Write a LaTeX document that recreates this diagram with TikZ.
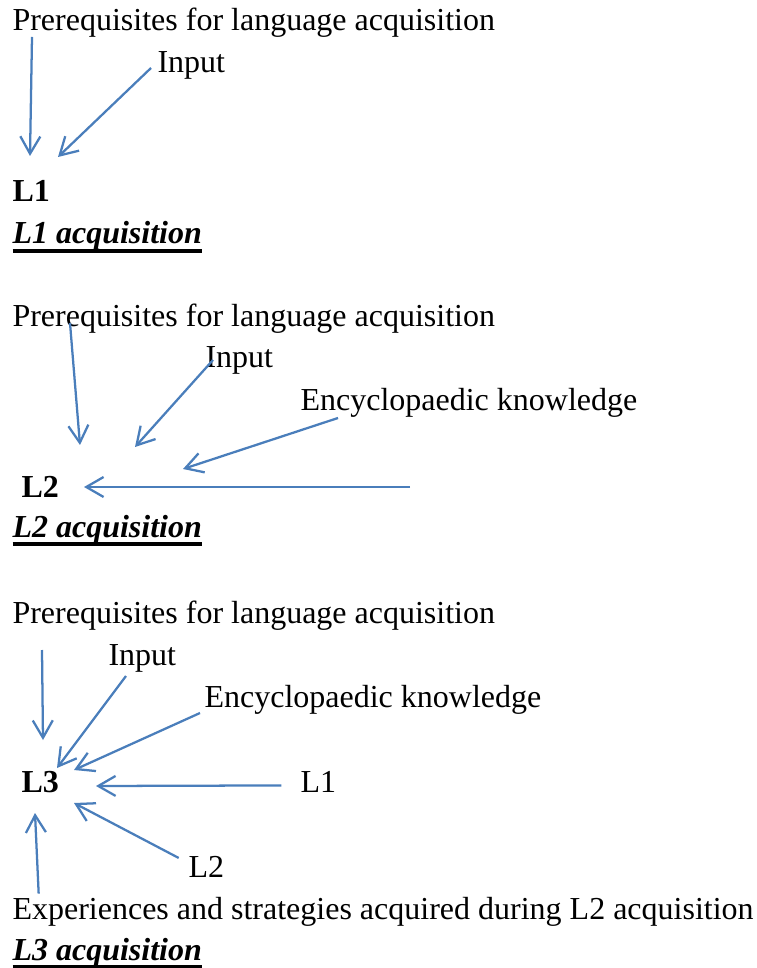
\documentclass[tikz,border=0pt]{standalone}
\usepackage{fontspec}
\setmainfont{Liberation Serif}
\usetikzlibrary{arrows.meta}
\definecolor{arrowblue}{RGB}{74,126,187}
\tikzstyle{line} = [draw, arrowblue, line width=0.85pt, -{Straight Barb[length=6.5pt,width=7.5pt]}]
\tikzstyle{txt} = [inner sep=0pt, anchor=base west, font=\fontsize{12}{14}\selectfont]
\tikzstyle{lang} = [txt, font=\fontsize{12}{14}\selectfont\bfseries]
\newcommand{\acqtitle}[1]{\setbox0=\hbox{\bfseries\itshape #1}\rlap{\vrule height -2pt depth 3.3pt width \wd0}\box0}

\begin{document}
\begin{tikzpicture}[x=0.375pt, y=-0.375pt]
        \useasboundingbox (0,0) rectangle (757,968);
        % L1 acquisition
        \node[txt] (pre1) at (12,31) {Prerequisites for language acquisition};
        \node[txt] (inp1) at (157,73) {Input};
        \node[lang] (lone1) at (12,202) {L1};
        \node[txt] (head1) at (12,244) {\acqtitle{L1 acquisition}};
        \coordinate (pre1s) at (32,37);   \coordinate (pre1e) at (30,156);
        \coordinate (inp1s) at (151,68);  \coordinate (inp1e) at (58,157);
        \path[line] (pre1s) -- (pre1e);
        \path[line] (inp1s) -- (inp1e);
        % L2 acquisition
        \node[txt] (pre2) at (12,327) {Prerequisites for language acquisition};
        \node[txt] (inp2) at (205,368) {Input};
        \node[txt] (enc2) at (300,410) {Encyclopaedic knowledge};
        \node[lang] (ltwo2) at (21,497) {L2};
        \node[txt] (head2) at (12,537) {\acqtitle{L2 acquisition}};
        \coordinate (pre2s) at (70,323);  \coordinate (pre2e) at (80,445);
        \coordinate (inp2s) at (213,360); \coordinate (inp2e) at (135,447);
        \coordinate (enc2s) at (338,418); \coordinate (enc2e) at (183,469);
        \coordinate (hor2s) at (410,487); \coordinate (hor2e) at (84,487);
        \path[line] (pre2s) -- (pre2e);
        \path[line] (inp2s) -- (inp2e);
        \path[line] (enc2s) -- (enc2e);
        \path[line] (hor2s) -- (hor2e);
        % L3 acquisition
        \node[txt] (pre3) at (12,623) {Prerequisites for language acquisition};
        \node[txt] (inp3) at (108,665) {Input};
        \node[txt] (enc3) at (204,707) {Encyclopaedic knowledge};
        \node[lang] (lthree3) at (21,792) {L3};
        \node[txt] (lone3) at (300,792) {L1};
        \node[txt] (ltwo3) at (188,877) {L2};
        \node[txt] (exp3) at (12,919) {Experiences and strategies acquired during L2 acquisition};
        \node[txt] (head3) at (12,960) {\acqtitle{L3 acquisition}};
        \coordinate (pre3s) at (42,650);  \coordinate (pre3e) at (43,740);
        \coordinate (inp3s) at (126,676); \coordinate (inp3e) at (57,768);
        \coordinate (enc3s) at (200,713); \coordinate (enc3e) at (74,770);
        \coordinate (lone3e) at (96,786);
        \coordinate (ltwo3e) at (74,803);
        \coordinate (exp3e) at (35,813);
        \path[line] (pre3s) -- (pre3e);
        \path[line] (inp3s) -- (inp3e);
        \path[line] (enc3s) -- (enc3e);
        \path[line] (lone3.west) ++(-7pt,-1.5pt) -- (lone3e);
        \path[line] (ltwo3.north west) ++(-3.5pt,-1pt) -- (ltwo3e);
        \path[line] (exp3.north west) ++(10pt,1pt) -- (exp3e);
    \end{tikzpicture}
\end{document}
